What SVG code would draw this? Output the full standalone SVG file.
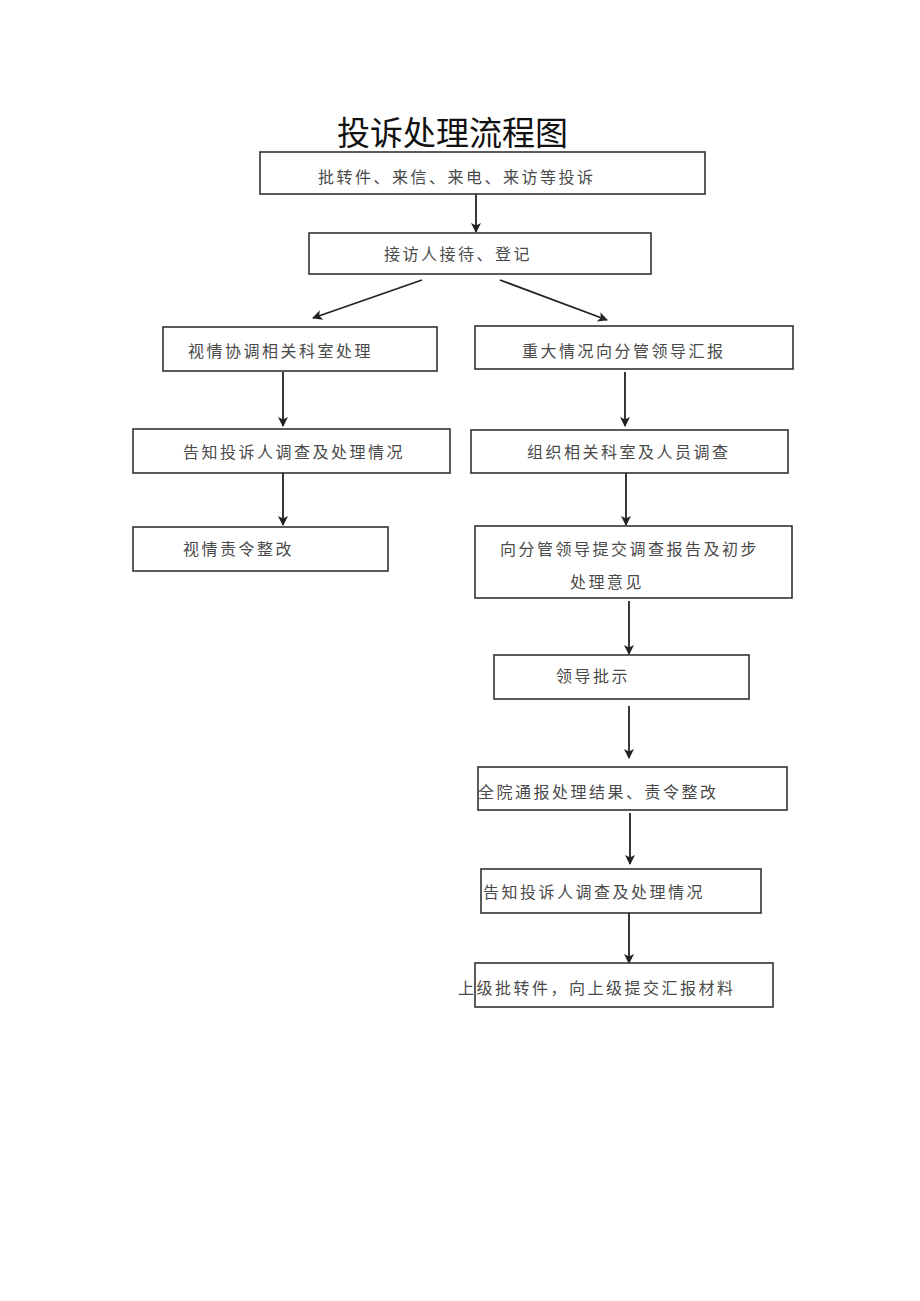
<svg xmlns="http://www.w3.org/2000/svg" width="920" height="1301" viewBox="0 0 920 1301">
<style>
.box{fill:#fff;stroke:#333;stroke-width:1.6}
.t{font-family:"Noto Sans CJK SC","Noto Sans CJK JP",sans-serif;font-size:16px;fill:#4a4a4a;letter-spacing:2.5px;dominant-baseline:central}
.title{font-family:"Noto Sans CJK SC","Noto Sans CJK JP",sans-serif;font-size:33px;fill:#111;dominant-baseline:central}
.c{stroke:#222;stroke-width:1.8;fill:none;marker-end:url(#ah)}
</style>
<defs>
<marker id="ah" viewBox="0 0 10 10" refX="9" refY="5" markerWidth="10" markerHeight="10" markerUnits="userSpaceOnUse" orient="auto">
<path d="M0,0 L10,5 L0,10 L2.5,5 Z" fill="#222"/>
</marker>
</defs>
<rect width="920" height="1301" fill="#fff"/>
<text class="title" x="337" y="131">投诉处理流程图</text>
<g id="connectors">
<line class="c" x1="476" y1="194" x2="476" y2="232"/>
<line class="c" x1="422" y1="280" x2="313" y2="318"/>
<line class="c" x1="500" y1="280" x2="607" y2="320"/>
<line class="c" x1="283" y1="372" x2="283" y2="426"/>
<line class="c" x1="625" y1="372" x2="625" y2="426"/>
<line class="c" x1="283" y1="473" x2="283" y2="525"/>
<line class="c" x1="626" y1="473" x2="626" y2="525"/>
<line class="c" x1="629" y1="601" x2="629" y2="654"/>
<line class="c" x1="629" y1="706" x2="629" y2="758"/>
<line class="c" x1="630" y1="813" x2="630" y2="864"/>
<line class="c" x1="629" y1="913" x2="629" y2="963"/>
</g>
<g id="n1"><rect class="box" x="260" y="152" width="445" height="42"/><text class="t" x="318" y="176">批转件、来信、来电、来访等投诉</text></g>
<g id="n2"><rect class="box" x="309" y="233" width="342" height="41"/><text class="t" x="384" y="253">接访人接待、登记</text></g>
<g id="n3"><rect class="box" x="163" y="327" width="274" height="44"/><text class="t" x="188" y="350">视情协调相关科室处理</text></g>
<g id="n4"><rect class="box" x="475" y="326" width="318" height="43"/><text class="t" x="522" y="350">重大情况向分管领导汇报</text></g>
<g id="n5"><rect class="box" x="133" y="429" width="317" height="44"/><text class="t" x="183" y="451">告知投诉人调查及处理情况</text></g>
<g id="n6"><rect class="box" x="471" y="430" width="317" height="43"/><text class="t" x="527" y="451">组织相关科室及人员调查</text></g>
<g id="n7"><rect class="box" x="133" y="527" width="255" height="44"/><text class="t" x="183" y="548">视情责令整改</text></g>
<g id="n8"><rect class="box" x="475" y="526" width="317" height="72"/><text class="t" x="500" y="548">向分管领导提交调查报告及初步</text><text class="t" x="570" y="581">处理意见</text></g>
<g id="n9"><rect class="box" x="494" y="655" width="255" height="44"/><text class="t" x="556" y="675">领导批示</text></g>
<g id="n10"><rect class="box" x="478" y="767" width="309" height="43"/><text class="t" x="478" y="791">全院通报处理结果、责令整改</text></g>
<g id="n11"><rect class="box" x="481" y="869" width="280" height="44"/><text class="t" x="483" y="891">告知投诉人调查及处理情况</text></g>
<g id="n12"><rect class="box" x="475" y="963" width="298" height="44"/><text class="t" x="458" y="987">上级批转件，向上级提交汇报材料</text></g>
</svg>
